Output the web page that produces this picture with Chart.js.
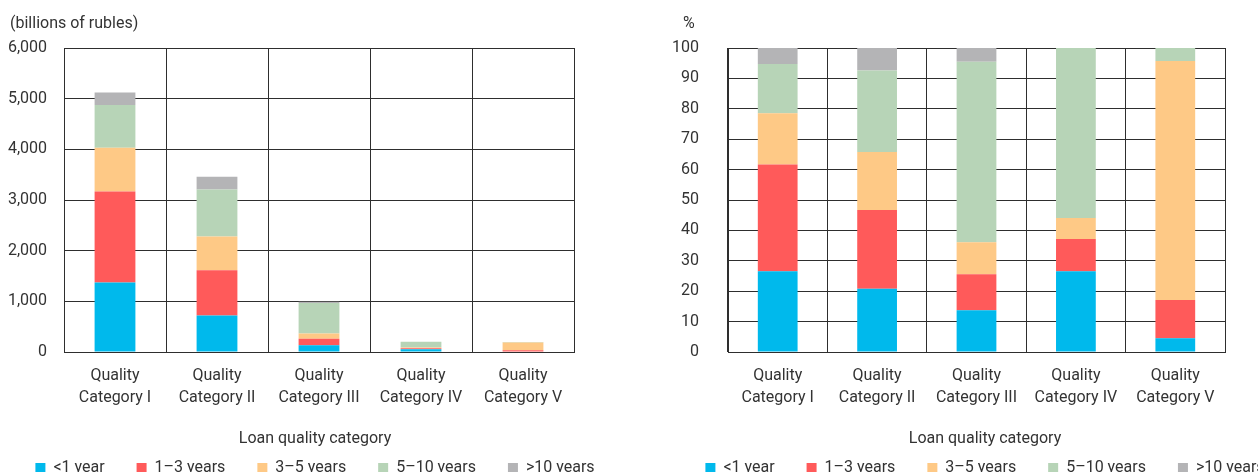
<!DOCTYPE html>
<html>
<head>
<meta charset="utf-8">
<script src="https://cdn.jsdelivr.net/npm/chart.js@4/dist/chart.umd.min.js"></script>
<style>
  html, body { margin: 0; padding: 0; width: 1258px; height: 472px; overflow: hidden; background: #fff; }
  canvas { position: absolute; top: 0; }
  #amounts { left: -25px; }
  #shares { left: 645px; }
</style>
</head>
<body>
<canvas id="amounts" width="680" height="486"></canvas>
<canvas id="shares" width="680" height="486"></canvas>
<script>
// Loan quality categories (two-line axis labels)
const categories = [
  ['Quality', 'Category I'],
  ['Quality', 'Category II'],
  ['Quality', 'Category III'],
  ['Quality', 'Category IV'],
  ['Quality', 'Category V']
];
const maturityLabels = ['<1 year', '1–3 years', '3–5 years', '5–10 years', '>10 years'];

// Loan volume by remaining maturity, billions of rubles
const volUnder1 = [1370, 720, 135, 54, 9];
const vol1to3   = [1800, 895, 125, 21, 24];
const vol3to5   = [860, 665, 105, 13, 154];
const vol5to10  = [845, 925, 600, 112, 8];
const volOver10 = [247, 252, 27, 0, 0];

// Maturity structure within each category, %
const shareUnder1 = [26.6, 20.8, 13.7, 26.6, 4.5];
const share1to3   = [35.1, 25.9, 11.9, 10.6, 12.6];
const share3to5   = [16.8, 19.1, 10.5, 6.9, 78.6];
const share5to10  = [16.2, 26.8, 59.4, 55.9, 4.3];
const shareOver10 = [5.3, 7.4, 4.5, 0, 0];

// Value-axis ticks
const amountTicks = [0, 1000, 2000, 3000, 4000, 5000, 6000];
const shareTicks = [0, 10, 20, 30, 40, 50, 60, 70, 80, 90, 100];

const seriesColors = ['#00b9ec', '#ff5a5a', '#fec986', '#b7d4b7', '#b4b4b6'];
const textColor = '#333333';
const gridColor = '#2e2e2e';
const fontFamily = 'Roboto, "Liberation Sans", sans-serif';

Chart.defaults.font.family = fontFamily;
Chart.defaults.font.size = 16;
Chart.defaults.color = textColor;

// Places the unit caption (chart title) at a fixed x inside the canvas
const unitCaption = {
  id: 'unitCaption',
  afterLayout(chart, args, opts) {
    if (chart.titleBlock) chart.titleBlock.left = opts.x;
  }
};

function makeChart(canvasId, series, ticks, opts) {
  const datasets = maturityLabels.map((name, i) => ({
    label: name,
    data: series[i],
    backgroundColor: seriesColors[i],
    borderWidth: 0,
    barPercentage: 1,
    categoryPercentage: 0.4
  }));

  return new Chart(document.getElementById(canvasId), {
    type: 'bar',
    data: { labels: categories, datasets },
    plugins: [unitCaption],
    options: {
      responsive: false,
      animation: false,
      layout: { padding: 0 },
      scales: {
        x: {
          stacked: true,
          afterFit: (scale) => { scale.height = 58.5; },
          grid: { color: gridColor, lineWidth: 1, drawTicks: false, tickLength: 0 },
          border: { color: gridColor, width: 1 },
          ticks: {
            color: textColor,
            font: { size: 16, lineHeight: 1.42 },
            padding: 12.3,
            maxRotation: 0,
            autoSkip: false
          }
        },
        y: {
          stacked: true,
          min: ticks[0],
          max: ticks[ticks.length - 1],
          afterBuildTicks: (scale) => { scale.ticks = ticks.map(v => ({ value: v })); },
          afterFit: (scale) => { scale.width = opts.axisWidth; },
          grid: { color: gridColor, lineWidth: 1, drawTicks: false, tickLength: 0 },
          border: { color: gridColor, width: 1 },
          ticks: {
            color: textColor,
            font: { size: 16 },
            padding: opts.tickPad,
            callback: (v) => Number(v).toLocaleString('en-US')
          }
        },
        gap: {
          type: 'linear',
          position: 'right',
          grid: { display: false },
          border: { display: false },
          ticks: { display: false },
          afterFit: (scale) => { scale.width = opts.rightGap; }
        }
      },
      plugins: {
        unitCaption: { x: opts.unitX },
        title: {
          display: true,
          text: opts.unit,
          align: 'start',
          color: textColor,
          font: { size: 16, weight: 'normal' },
          padding: { top: 14.4, bottom: 14.4 }
        },
        legend: {
          position: 'bottom',
          title: {
            display: true,
            text: 'Loan quality category',
            color: textColor,
            font: { size: 16 },
            padding: { top: 20.5, bottom: -22.2 }
          },
          labels: {
            boxWidth: 10,
            boxHeight: 10,
            padding: 32,
            color: textColor,
            font: { size: 16 }
          }
        },
        tooltip: { enabled: false }
      }
    }
  });
}

makeChart('amounts',
  [volUnder1, vol1to3, vol3to5, vol5to10, volOver10],
  amountTicks,
  { unit: '(billions of rubles)', unitX: 35, axisWidth: 89, tickPad: 17, rightGap: 81 });

makeChart('shares',
  [shareUnder1, share1to3, share3to5, share5to10, shareOver10],
  shareTicks,
  { unit: '%', unitX: 38, axisWidth: 83, tickPad: 29, rightGap: 100 });
</script>
</body>
</html>
